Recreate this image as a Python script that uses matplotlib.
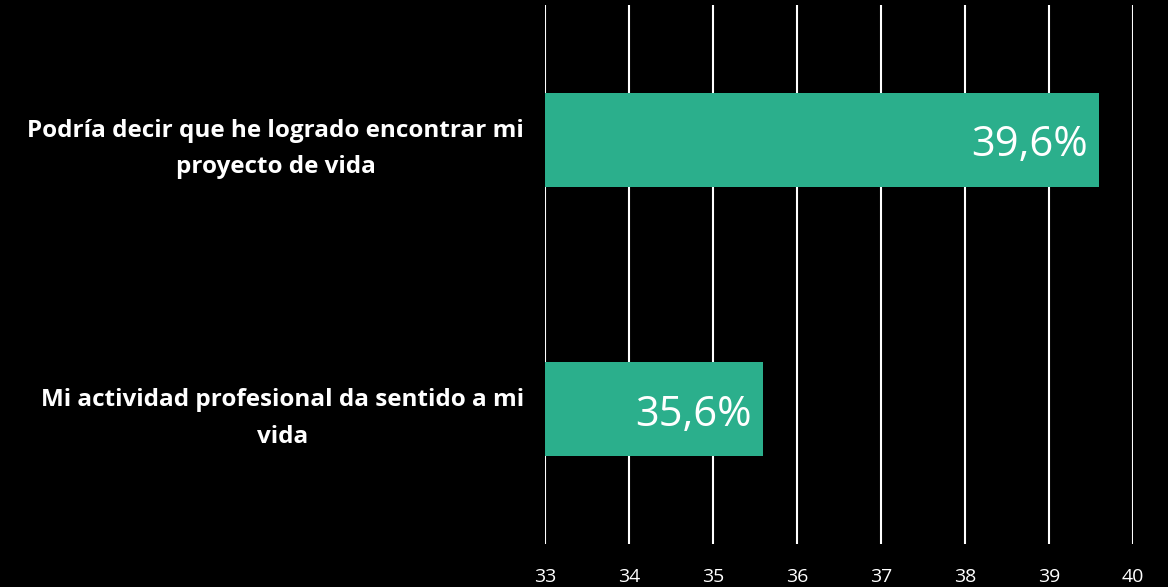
import matplotlib
matplotlib.use('Agg')

import matplotlib.pyplot as plt

# data
categories = ["Mi actividad profesional da sentido a mi\nvida",
              "Podría decir que he logrado encontrar mi\nproyecto de vida"]
values = [35.6, 39.6]
value_labels = ["35,6%", "39,6%"]
xticks = [33, 34, 35, 36, 37, 38, 39, 40]

bar_color = '#2BAF8C'

fig = plt.figure(figsize=(11.68, 5.87), dpi=100, facecolor='black')
ax = fig.add_axes([545 / 1168, 43 / 587, 588 / 1168, 539 / 587])
ax.set_facecolor('black')

ypos = list(range(len(categories)))
ax.barh(ypos, [v - 33 for v in values], left=33, height=0.35, color=bar_color, zorder=2)

for y, v, lab in zip(ypos, values, value_labels):
    ax.text(v - 0.14, y - 0.02, lab, ha='right', va='center', color='white',
            fontsize=30, family='Open Sans', zorder=3)

ax.set_xlim(33, 40)
ax.set_ylim(-0.5, 1.5)
ax.set_xticks(xticks)
ax.set_xticklabels([str(t) for t in xticks], family='Open Sans', fontsize=14, color='white')
ax.set_yticks(ypos)
ax.set_yticklabels(categories, family='Open Sans', fontsize=17.5, fontweight='bold',
                   color='white', multialignment='center', linespacing=1.7)
ax.tick_params(axis='both', length=0)
ax.tick_params(axis='x', pad=17)
ax.tick_params(axis='y', pad=15)

ax.grid(axis='x', color='white', linewidth=1.5, zorder=1)
ax.set_axisbelow(True)
for s in ax.spines.values():
    s.set_visible(False)

plt.savefig('out.png', facecolor='black')
